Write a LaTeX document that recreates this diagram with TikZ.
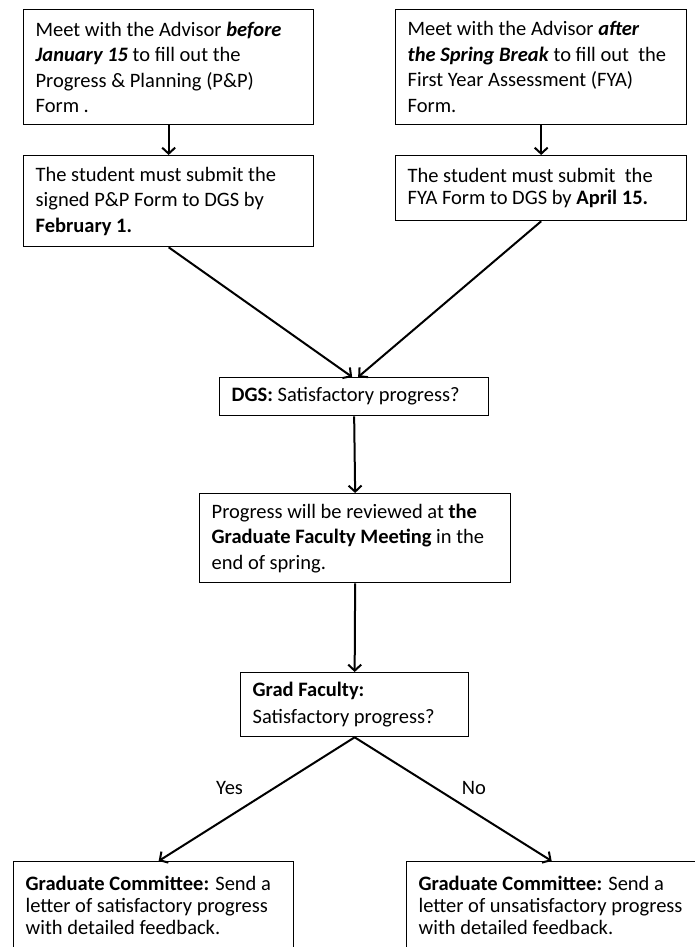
\documentclass[tikz,border=0pt]{standalone}
\usepackage{fontspec}
\setmainfont{Carlito}
\usetikzlibrary{arrows.meta,positioning}
\tikzset{>={Straight Barb[length=6pt,width=13pt]},
	flow/.style={->, line width=2pt}}
\tikzstyle{stepbox}=[draw, line width=1.3pt, anchor=north west, align=flush left,
inner xsep=12pt, inner ysep=0pt, font=\fontsize{20.5}{25.5}\selectfont]
\tikzstyle{tight}=[font=\fontsize{20.5}{22}\selectfont]

\begin{document}
\begin{tikzpicture}[x=1pt, y=-1pt]
	\useasboundingbox (0,0) rectangle (695,947);
	\clip (0,0) rectangle (695,947);
	% left column
	\node (meetpp) [stepbox, text width=266pt, minimum height=115pt] at (23,9)
	{Meet with the Advisor \textbf{\textit{before}}\\
		\textbf{\textit{January 15}} to fill out the\\
		Progress \& Planning (P\&P)\\
		Form .};
	\node (submitpp) [stepbox, text width=266pt, minimum height=91pt] at (23,155)
	{The student must submit the\\
		signed P\&P Form to DGS by\\
		\textbf{February 1.}};
	% right column
	\node (meetfya) [stepbox, text width=267pt, minimum height=115pt] at (395,9)
	{Meet with the Advisor \textbf{\textit{after}}\\
		\textbf{\textit{the Spring Break}} to fill out~ the\\
		First Year Assessment (FYA)\\
		Form.};
	\node (submitfya) [stepbox, tight, text width=267pt, minimum height=65pt] at (395,155)
	{The student must submit~ the\\
		FYA Form to DGS by \textbf{April 15.}};
	% middle
	\node (dgs) [stepbox, text width=245pt, minimum height=38pt] at (219,377)
	{\textbf{DGS:} Satisfactory progress?};
	\node (review) [stepbox, text width=287pt, minimum height=89pt] at (199,493)
	{Progress will be reviewed at \textbf{the}\\
		\textbf{Graduate Faculty Meeting} in the\\
		end of spring.};
	\node (faculty) [stepbox, font=\fontsize{20.5}{27}\selectfont, text width=204pt, minimum height=64pt] at (240,672)
	{\textbf{Grad Faculty:}\\
		Satisfactory progress?};
	% outcomes
	\node (good) [stepbox, tight, text width=256pt, minimum height=88pt] at (13,861)
	{\textbf{Graduate Committee:} Send a\\
		letter of satisfactory progress\\
		with detailed feedback.};
	\node (bad) [stepbox, tight, text width=266pt, minimum height=88pt] at (406,861)
	{\textbf{Graduate Committee:} Send a\\
		letter of unsatisfactory progress\\
		with detailed feedback.};

	\draw[flow] (meetpp.south) -- (submitpp.north);
	\draw[flow] (meetfya.south) -- (submitfya.north);
	\draw[flow] (submitpp.south) -- ([xshift=-2pt]dgs.north);
	\draw[flow] (submitfya.south) -- ([xshift=4pt]dgs.north);
	\draw[flow] (dgs.south) -- (review.north);
	\draw[flow] (review.south) -- (faculty.north);
	\draw[flow] (faculty.south) -- ([xshift=5pt]good.north)
	node[pos=.41, left=27pt, font=\fontsize{20.5}{22}\selectfont] (yes) {Yes};
	\draw[flow] (faculty.south) -- (bad.north)
	node[pos=.41, right=22pt, font=\fontsize{20.5}{22}\selectfont] (no) {No};
\end{tikzpicture}
\end{document}
